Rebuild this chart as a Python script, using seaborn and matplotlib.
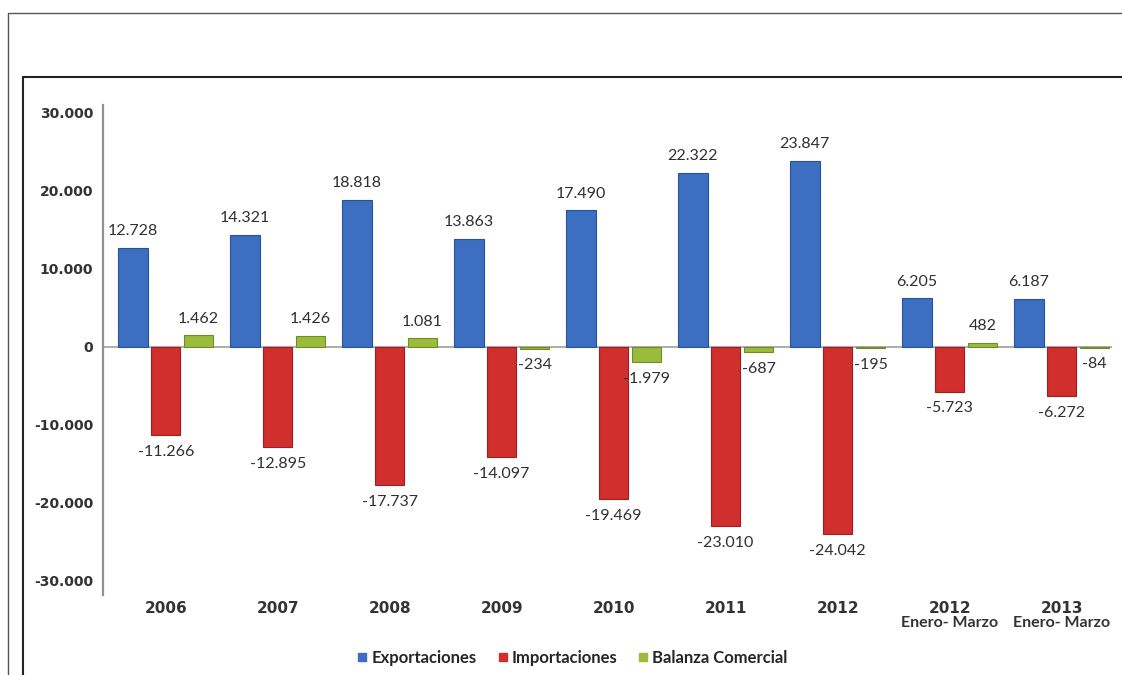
import matplotlib
matplotlib.use("Agg")
import matplotlib.pyplot as plt
import seaborn as sns
import pandas as pd
from matplotlib.lines import Line2D
from matplotlib.ticker import FuncFormatter
import matplotlib.transforms as mtransforms

# ---- data ----
categories = ["2006", "2007", "2008", "2009", "2010", "2011", "2012",
              "2012 Enero- Marzo", "2013 Enero- Marzo"]
tick_years = ["2006", "2007", "2008", "2009", "2010", "2011", "2012", "2012", "2013"]
tick_sub = ["", "", "", "", "", "", "", "Enero- Marzo", "Enero- Marzo"]
series_names = ["Exportaciones", "Importaciones", "Balanza Comercial"]
exportaciones = [12728, 14321, 18818, 13863, 17490, 22322, 23847, 6205, 6187]
importaciones = [-11266, -12895, -17737, -14097, -19469, -23010, -24042, -5723, -6272]
balanza = [1462, 1426, 1081, -234, -1979, -687, -195, 482, -84]
y_ticks = [-30000, -20000, -10000, 0, 10000, 20000, 30000]

colors = ["#3c6fc2", "#d12e2e", "#9abb3c"]

rows = []
for name, vals in zip(series_names, [exportaciones, importaciones, balanza]):
    for c, v in zip(categories, vals):
        rows.append({"cat": c, "serie": name, "valor": v})
df = pd.DataFrame(rows)

sns.set_theme(style="white")
plt.rcParams["font.family"] = ["DejaVu Sans"]

W, H = 1122, 675
fig = plt.figure(figsize=(W / 100, H / 100), dpi=100)
fig.patch.set_facecolor("white")

ax_l, ax_r, ax_t, ax_b = 103, 1112, 105, 595
ax = fig.add_axes([ax_l / W, 1 - ax_b / H, (ax_r - ax_l) / W, (ax_b - ax_t) / H])

sns.barplot(data=df, x="cat", y="valor", hue="serie", order=categories,
            hue_order=series_names, palette=colors, width=0.88, gap=0.1,
            saturation=1, ax=ax, legend=False, edgecolor="none")

for cont, col in zip(ax.containers, ["#2a5298", "#9e1f1f", "#6f8c25"]):
    for p in cont:
        p.set_edgecolor(col)
        p.set_linewidth(0.8)

def fmt(v):
    s = f"{abs(v):,.0f}".replace(",", ".")
    return ("-" if v < 0 else "") + s

for cont, vals in zip(ax.containers, [exportaciones, importaciones, balanza]):
    ax.bar_label(cont, labels=[fmt(v) for v in vals], padding=7,
                 fontsize=11.5, color="#303030", family="Lato")

ax.set_ylim(-31800, 31000)
ax.set_xlim(-0.56, 8.45)
ax.axhline(0, color="#a0a0a0", lw=1.2, zorder=0.5)

ax.set_yticks(y_ticks)
ax.yaxis.set_major_formatter(FuncFormatter(lambda v, p: fmt(v)))
for lab in ax.get_yticklabels():
    lab.set_fontweight("bold")
    lab.set_fontsize(10)
    lab.set_color("#333333")
ax.tick_params(axis="y", length=3, color="#a0a0a0", pad=4)

ax.set_xticks(range(len(categories)))
ax.set_xticklabels(tick_years, fontweight="bold", fontsize=11, color="#333333")
ax.tick_params(axis="x", length=0, pad=4)
trans = mtransforms.blended_transform_factory(ax.transData, fig.transFigure)
for i, s in enumerate(tick_sub):
    if s:
        ax.text(i, 1 - 623 / H, s, transform=trans, ha="center", va="center",
                fontsize=11.5, fontweight="bold", family="Lato", color="#333333")

ax.set_xlabel("")
ax.set_ylabel("")
for s in ["top", "right", "bottom"]:
    ax.spines[s].set_visible(False)
ax.spines["left"].set_color("#909090")
ax.spines["left"].set_linewidth(1.6)

handles = [Line2D([], [], marker="s", color="none", markerfacecolor=c,
                  markeredgecolor=c, markersize=6) for c in colors]
fig.legend(handles, series_names, loc="center", bbox_to_anchor=(573 / W, 1 - 658 / H),
           ncol=3, frameon=False, handlelength=0.5, handletextpad=0.3,
           columnspacing=1.3, prop={"family": "Lato", "weight": "bold", "size": 12})

# frames
def hline(x0, x1, y, lw, c):
    fig.add_artist(Line2D([x0 / W, x1 / W], [1 - y / H, 1 - y / H], lw=lw, color=c))
def vline(x, y0, y1, lw, c):
    fig.add_artist(Line2D([x / W, x / W], [1 - y0 / H, 1 - y1 / H], lw=lw, color=c))

hline(8, W + 5, 13, 1.0, "#555555")
vline(8, 13, H + 5, 1.0, "#555555")
hline(23, W + 5, 77, 1.5, "#222222")
vline(23, 77, H + 5, 1.5, "#222222")

fig.savefig("out.png", dpi=100, facecolor="white")
